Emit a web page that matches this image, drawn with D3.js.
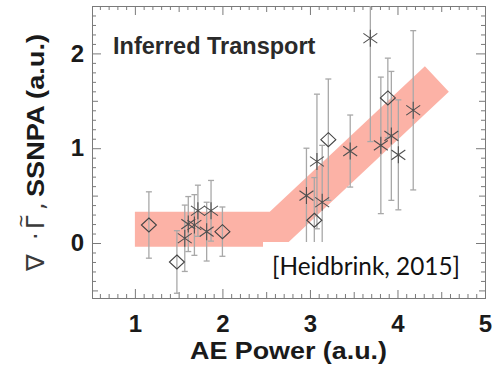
<!DOCTYPE html>
<html>
<head>
<meta charset="utf-8">
<script src="https://cdn.jsdelivr.net/npm/d3@7"></script>
<style>
  html, body { margin: 0; padding: 0; background: #fff; }
  svg { display: block; }
</style>
</head>
<body>
<svg id="chart" width="496" height="366"></svg>
<script>
// Diamond-marked measurements: AE power, inferred transport, error
const diamondX = [1.16, 1.48, 2.00, 3.05, 3.21, 3.89];
const diamondY = [0.19, -0.20, 0.12, 0.24, 1.09, 1.53];
const diamondErr = [0.35, 0.33, 0.26, 0.45, 0.64, 0.42];

// Asterisk-marked measurements
const starX = [1.57, 1.61, 1.68, 1.72, 1.82, 1.87, 2.96, 3.08, 3.14, 3.46, 3.69, 3.81, 3.93, 4.01, 4.18];
const starY = [0.05, 0.20, 0.19, 0.34, 0.12, 0.34, 0.50, 0.86, 0.43, 0.97, 2.16, 1.03, 1.13, 0.93, 1.40];
const starErr = [0.35, 0.29, 0.32, 0.27, 0.31, 0.32, 0.50, 0.71, 0.60, 0.38, 1.09, 0.72, 0.68, 0.58, 0.84];

// Threshold trend band (centre line)
const bandX = [1.0, 2.62, 4.45];
const bandY = [0.145, 0.145, 1.73];

// Axis ticks
const xTicks = [1, 2, 3, 4, 5];
const yTicks = [0, 1, 2];

const svg = d3.select("#chart");
const plotLeft = 92, plotRight = 485, plotTop = 6, plotBottom = 298;

const x = d3.scaleLinear().domain([0.51, 5.0]).range([plotLeft, plotRight]);
const y = d3.scaleLinear().domain([-0.58, 2.5]).range([plotBottom, plotTop]);

const frameColor = "#7a7a7a";
const tickFont = "'Liberation Sans', Arial, Helvetica, sans-serif";

// Trend band
svg.append("path")
  .datum(bandX.map((d, i) => [d, bandY[i]]))
  .attr("d", d3.line().x(d => x(d[0])).y(d => y(d[1])))
  .attr("fill", "none")
  .attr("stroke", "#fcb2a6")
  .attr("stroke-width", 35)
  .attr("stroke-linejoin", "miter")
  .attr("stroke-linecap", "butt");

// Tick positions at tenths, with longer ticks at halves and integers
const xMinor = d3.range(6, 50).map(i => i / 10);
const yMinor = d3.range(-5, 25).map(i => i / 10);
const tickLen = v => {
  const t = Math.round(v * 10);
  if (t % 10 === 0) return 9;
  if (t % 5 === 0) return 6;
  return 4;
};

function styleAxis(g) {
  g.selectAll(".domain").attr("stroke", frameColor).attr("stroke-width", 1);
  g.selectAll(".tick line").attr("stroke", frameColor).attr("stroke-width", 1);
}

// Inward ticks on all four sides, grouped by length
[4, 6, 9].forEach(len => {
  const xv = xMinor.filter(v => tickLen(v) === len);
  const yv = yMinor.filter(v => tickLen(v) === len);
  svg.append("g").attr("transform", `translate(0,${plotBottom})`)
    .call(d3.axisBottom(x).tickValues(xv).tickSizeInner(-len).tickSizeOuter(0).tickFormat(""))
    .call(styleAxis);
  svg.append("g").attr("transform", `translate(0,${plotTop})`)
    .call(d3.axisTop(x).tickValues(xv).tickSizeInner(-len).tickSizeOuter(0).tickFormat(""))
    .call(styleAxis);
  svg.append("g").attr("transform", `translate(${plotLeft},0)`)
    .call(d3.axisLeft(y).tickValues(yv).tickSizeInner(-len).tickSizeOuter(0).tickFormat(""))
    .call(styleAxis);
  svg.append("g").attr("transform", `translate(${plotRight},0)`)
    .call(d3.axisRight(y).tickValues(yv).tickSizeInner(-len).tickSizeOuter(0).tickFormat(""))
    .call(styleAxis);
});

// Labelled axes
const xAxis = svg.append("g").attr("transform", `translate(0,${plotBottom})`)
  .call(d3.axisBottom(x).tickValues(xTicks).tickSizeInner(0).tickSizeOuter(0).tickPadding(17).tickFormat(d3.format("d")));
xAxis.select(".domain").remove();
xAxis.selectAll("text")
  .attr("font-family", tickFont).attr("font-weight", "bold").attr("font-size", 24).attr("fill", "#1a1a1a");

const yAxis = svg.append("g").attr("transform", `translate(${plotLeft},0)`)
  .call(d3.axisLeft(y).tickValues(yTicks).tickSizeInner(0).tickSizeOuter(0).tickPadding(8).tickFormat(d3.format("d")));
yAxis.select(".domain").remove();
yAxis.selectAll("text")
  .attr("font-family", tickFont).attr("font-weight", "bold").attr("font-size", 24).attr("fill", "#1a1a1a");

// Error bars
const capHalf = 3;
function errorBars(xs, ys, es) {
  const g = svg.append("g").attr("stroke", "#a8a8a8").attr("stroke-width", 1.3).attr("fill", "none");
  xs.forEach((xv, i) => {
    const lo = y(ys[i] - es[i]);
    const hiRaw = y(ys[i] + es[i]);
    const hi = Math.max(hiRaw, plotTop);
    const cx = x(xv);
    g.append("line").attr("x1", cx).attr("x2", cx).attr("y1", lo).attr("y2", hi);
    g.append("line").attr("x1", cx - capHalf).attr("x2", cx + capHalf).attr("y1", lo).attr("y2", lo);
    if (hiRaw > plotTop) {
      g.append("line").attr("x1", cx - capHalf).attr("x2", cx + capHalf).attr("y1", hi).attr("y2", hi);
    }
  });
}
errorBars(diamondX, diamondY, diamondErr);
errorBars(starX, starY, starErr);

// Diamond markers
const dw = 7.5, dh = 7;
svg.append("g").selectAll("path")
  .data(diamondX.map((d, i) => [d, diamondY[i]]))
  .join("path")
  .attr("d", d => {
    const cx = x(d[0]), cy = y(d[1]);
    return `M${cx},${cy - dh}L${cx + dw},${cy}L${cx},${cy + dh}L${cx - dw},${cy}Z`;
  })
  .attr("fill", "none")
  .attr("stroke", "#444")
  .attr("stroke-width", 1.1);

// Asterisk markers
const sr = 8.5;
const sa = 35 * Math.PI / 180;
svg.append("g").selectAll("path")
  .data(starX.map((d, i) => [d, starY[i]]))
  .join("path")
  .attr("d", d => {
    const cx = x(d[0]), cy = y(d[1]);
    const dx = sr * Math.cos(sa), dy = sr * Math.sin(sa);
    return `M${cx},${cy - sr}L${cx},${cy + sr}` +
      `M${cx - dx},${cy - dy}L${cx + dx},${cy + dy}` +
      `M${cx - dx},${cy + dy}L${cx + dx},${cy - dy}`;
  })
  .attr("fill", "none")
  .attr("stroke", "#505050")
  .attr("stroke-width", 1.1);

// Panel title
svg.append("text")
  .attr("x", 113).attr("y", 54)
  .attr("font-family", tickFont).attr("font-weight", "bold").attr("font-size", 23.5)
  .attr("fill", "#2a2a2a")
  .text("Inferred Transport");

// X axis title
svg.append("text")
  .attr("x", (plotLeft + plotRight) / 2).attr("y", 359)
  .attr("text-anchor", "middle")
  .attr("font-family", tickFont).attr("font-weight", "bold").attr("font-size", 24)
  .attr("fill", "#1a1a1a")
  .attr("textLength", 197).attr("lengthAdjust", "spacingAndGlyphs")
  .text("AE Power (a.u.)");

// Y axis title: divergence of the flux (regular weight) then the quantity in bold
const yTitleG = svg.append("g").attr("transform", "translate(44,0) rotate(-90)");
const opFont = "'DejaVu Sans', sans-serif";
yTitleG.append("text")
  .attr("x", -271).attr("y", 0)
  .attr("font-family", opFont).attr("font-size", 25).attr("fill", "#3a3a3a")
  .text("\u2207");
yTitleG.append("text")
  .attr("x", -240).attr("y", 0)
  .attr("font-family", opFont).attr("font-size", 24).attr("fill", "#3a3a3a")
  .text("\u00B7");
yTitleG.append("text")
  .attr("x", -229).attr("y", 0)
  .attr("font-family", opFont).attr("font-size", 24).attr("fill", "#3a3a3a")
  .text("\u0393");
yTitleG.append("text")
  .attr("x", -221).attr("y", -17)
  .attr("text-anchor", "middle")
  .attr("font-family", opFont).attr("font-size", 17).attr("fill", "#3a3a3a")
  .text("~");
yTitleG.append("text")
  .attr("x", -210).attr("y", 0)
  .attr("font-family", opFont).attr("font-size", 24).attr("fill", "#3a3a3a")
  .text(",");
yTitleG.append("text")
  .attr("x", -197).attr("y", 0)
  .attr("font-family", tickFont).attr("font-weight", "bold").attr("font-size", 24)
  .attr("fill", "#1a1a1a")
  .attr("textLength", 163).attr("lengthAdjust", "spacingAndGlyphs")
  .text("SSNPA (a.u.)");

// Citation box
svg.append("rect")
  .attr("x", 263).attr("y", 242).attr("width", 211).attr("height", 48)
  .attr("fill", "#fff");
svg.append("text")
  .attr("x", 272).attr("y", 274.5)
  .attr("font-family", "Lato, 'Open Sans', sans-serif").attr("font-size", 25)
  .attr("fill", "#111")
  .attr("textLength", 188).attr("lengthAdjust", "spacingAndGlyphs")
  .text("[Heidbrink, 2015]");
</script>
</body>
</html>
